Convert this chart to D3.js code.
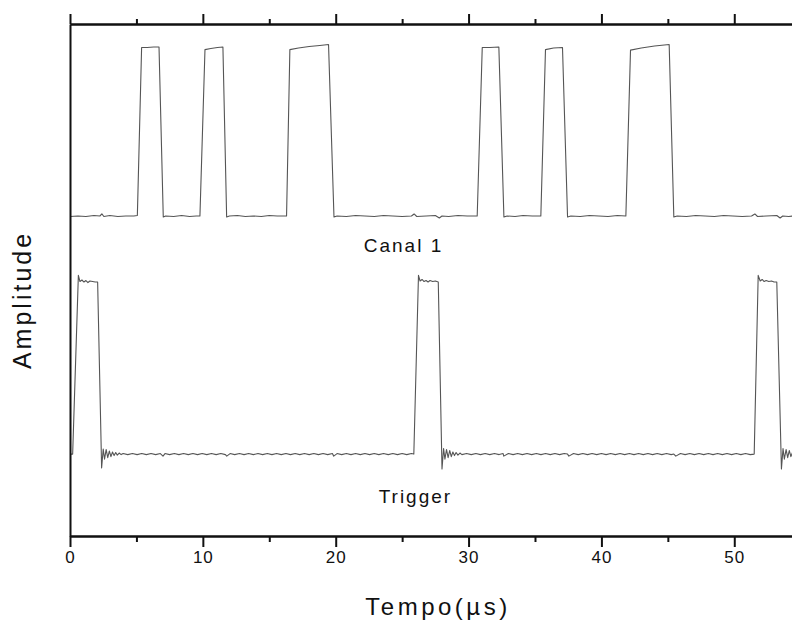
<!DOCTYPE html>
<html>
<head>
<meta charset="utf-8">
<script src="https://cdn.jsdelivr.net/npm/d3@7/dist/d3.min.js"></script>
<style>
  html, body { margin: 0; padding: 0; background: #fff; }
  svg { display: block; font-family: "Liberation Sans", Arial, sans-serif; }
</style>
</head>
<body>
<svg id="chart" width="792" height="624"></svg>
<script>
// Time axis (µs)
const majorTicks = [0, 10, 20, 30, 40, 50];
const minorTicks = [5, 15, 25, 35, 45, 55];

// Canal 1 trace: time (µs) and amplitude (arbitrary units)
const canal1Time = [
  0, 0.6, 1.2, 1.8, 2.25, 2.4, 2.55, 3.0, 3.6, 4.2, 4.8, 5.07, 5.39, 5.8, 6.3, 6.70, 7.02, 7.2,
  7.8, 8.4, 9.0, 9.5, 9.78, 10.16, 10.6, 11.1, 11.51, 11.79, 12.0, 12.6, 13.2, 13.8, 14.4, 15.0,
  15.6, 16.3, 16.55, 17.2, 18.0, 18.8, 19.46, 19.87, 20.1, 20.8, 21.5, 22.2, 22.9, 23.6, 24.3,
  25.0, 25.7, 25.9, 26.1, 26.8, 27.5, 27.8, 28.0, 28.5, 29.2, 29.9, 30.65, 31.03, 31.6, 32.28,
  32.66, 32.9, 33.5, 34.1, 34.8, 35.44, 35.79, 36.4, 37.07, 37.45, 37.7, 38.4, 39.1, 39.8, 40.5,
  41.2, 41.84, 42.19, 43.0, 44.0, 45.1, 45.45, 45.7, 46.4, 47.1, 47.8, 48.5, 49.2, 49.9, 50.6,
  51.3, 51.55, 51.75, 52.4, 53.2, 53.45, 53.65, 54.1, 54.8, 55
];
const canal1Amp = [
  62.4, 62.5, 62.4, 62.6, 62.5, 62.9, 62.4, 62.6, 62.4, 62.5, 62.5, 62.6, 95.4, 95.4, 95.5, 95.5, 62.3, 62.5,
  62.4, 62.6, 62.4, 62.5, 62.5, 95.0, 95.2, 95.4, 95.5, 62.3, 62.5, 62.6, 62.4, 62.5, 62.4, 62.6,
  62.5, 62.5, 95.0, 95.3, 95.6, 95.8, 96.0, 62.3, 62.5, 62.4, 62.6, 62.5, 62.4, 62.6, 62.5,
  62.4, 62.5, 62.9, 62.4, 62.5, 62.6, 62.1, 62.5, 62.4, 62.6, 62.5, 62.5, 95.4, 95.4, 95.5,
  62.3, 62.5, 62.4, 62.6, 62.5, 62.5, 95.0, 95.3, 95.4, 62.3, 62.5, 62.4, 62.6, 62.5, 62.4,
  62.6, 62.5, 94.9, 95.3, 95.7, 96.0, 62.3, 62.5, 62.4, 62.6, 62.5, 62.4, 62.6, 62.5, 62.4,
  62.5, 62.9, 62.4, 62.5, 62.6, 62.1, 62.5, 62.4, 62.6, 62.5
];

// Trigger trace: time (µs) and amplitude (arbitrary units)
const triggerTime = [
  0, 0.2, 0.63, 0.75, 0.9, 1.05, 1.2, 1.35, 1.5, 1.7, 1.9, 2.08, 2.38, 2.5, 2.6, 2.72, 2.84, 2.96,
  3.08, 3.2, 3.32, 3.44, 3.56, 3.7, 3.85,
  4.0, 4.35, 4.7, 5.05, 5.4, 5.75, 6.1, 6.45, 6.8, 7.0, 7.15, 7.5, 7.85, 8.2, 8.55, 8.9, 9.25,
  9.6, 9.95, 10.3, 10.65, 11.0, 11.35, 11.7, 11.8, 12.05, 12.4, 12.75, 13.1, 13.45, 13.8, 14.15,
  14.5, 14.85, 15.2, 15.55, 15.9, 16.25, 16.6, 16.95, 17.3, 17.65, 18.0, 18.35, 18.7, 19.05,
  19.4, 19.75, 19.85, 20.1, 20.45, 20.8, 21.15, 21.5, 21.85, 22.2, 22.55, 22.9, 23.25, 23.6,
  23.95, 24.3, 24.65, 25.0, 25.35, 25.7, 25.88,
  26.23, 26.35, 26.5, 26.65, 26.8, 26.95, 27.1, 27.3, 27.5, 27.72, 28.0, 28.12, 28.22, 28.34,
  28.46, 28.58, 28.7, 28.82, 28.94, 29.06, 29.2, 29.35, 29.5,
  29.85, 30.2, 30.55, 30.9, 31.25, 31.6, 31.95, 32.3, 32.6, 32.65, 33.0, 33.35, 33.7, 34.05,
  34.4, 34.75, 35.1, 35.45, 35.8, 36.15, 36.5, 36.85, 37.2, 37.45, 37.55, 37.9, 38.25, 38.6,
  38.95, 39.3, 39.65, 40.0, 40.35, 40.7, 41.05, 41.4, 41.75, 42.1, 42.45, 42.8, 43.15, 43.5,
  43.85, 44.2, 44.55, 44.9, 45.25, 45.45, 45.6, 45.95, 46.3, 46.65, 47.0, 47.35, 47.7, 48.05,
  48.4, 48.75, 49.1, 49.45, 49.8, 50.15, 50.5, 50.85, 51.2, 51.5,
  51.8, 51.95, 52.1, 52.25, 52.4, 52.6, 52.8, 53.0, 53.2, 53.55, 53.67, 53.77, 53.9, 54.02,
  54.14, 54.26, 54.4, 54.6
];
const triggerAmp = [
  16.0, 16.0, 50.9, 49.7, 50.0, 49.6, 49.9, 49.5, 49.8, 49.7, 49.6, 49.6, 13.3, 17.0, 15.0, 16.9, 15.3, 16.6,
  15.5, 16.4, 15.7, 16.3, 15.8, 16.2, 15.9,
  16.1, 15.9, 16.1, 15.9, 16.1, 15.9, 16.1, 15.9, 16.1, 15.6, 16.1, 15.9, 16.1, 15.9, 16.1, 15.9, 16.1,
  15.9, 16.1, 15.9, 16.1, 15.9, 16.1, 15.9, 15.6, 16.1, 15.9, 16.1, 15.9, 16.1, 15.9, 16.1,
  15.9, 16.1, 15.9, 16.1, 15.9, 16.1, 15.9, 16.1, 15.9, 16.1, 15.9, 16.1, 15.9, 16.1,
  15.9, 16.1, 15.6, 16.1, 15.9, 16.1, 15.9, 16.1, 15.9, 16.1, 15.9, 16.1, 15.9, 16.1,
  15.9, 16.1, 15.9, 16.1, 15.9, 16.1, 16.0,
  50.9, 49.8, 50.1, 49.7, 49.9, 49.6, 49.9, 49.7, 49.8, 49.6, 13.1, 17.1, 15.0, 16.9, 15.3,
  16.7, 15.5, 16.4, 15.7, 16.3, 15.8, 16.2, 15.9,
  16.1, 15.9, 16.1, 15.9, 16.1, 15.9, 16.1, 15.9, 16.1, 15.6, 16.1, 15.9, 16.1, 15.9,
  16.1, 15.9, 16.1, 15.9, 16.1, 15.9, 16.1, 15.9, 16.1, 16.0, 15.6, 16.1, 15.9, 16.1,
  15.9, 16.1, 15.9, 16.1, 15.9, 16.1, 15.9, 16.1, 15.9, 16.1, 15.9, 16.1, 15.9, 16.1,
  15.9, 16.1, 15.9, 16.1, 15.9, 16.0, 15.6, 16.1, 15.9, 16.1, 15.9, 16.1, 15.9, 16.1,
  15.9, 16.1, 15.9, 16.1, 15.9, 16.1, 15.9, 16.1, 15.9, 16.0,
  50.9, 49.8, 50.1, 49.7, 49.9, 49.7, 49.8, 49.6, 49.6, 13.1, 17.1, 15.0, 16.9, 15.3,
  16.7, 15.5, 16.4, 15.8
];

const traces = [
  { name: "Canal 1", time: canal1Time, amp: canal1Amp },
  { name: "Trigger", time: triggerTime, amp: triggerAmp }
];

const svg = d3.select("#chart");
const plotLeft = 70, plotRight = 800.7, plotTop = 24, plotBottom = 536;

const x = d3.scaleLinear().domain([0, 55]).range([plotLeft, plotRight]);
const y = d3.scaleLinear().domain([0, 100]).range([plotBottom, plotTop]);

// Traces
const line = d3.line().x(d => x(d[0])).y(d => y(d[1]));
traces.forEach(tr => {
  const pts = tr.time.map((t, i) => [t, tr.amp[i]]);
  svg.append("path")
    .attr("d", line(pts))
    .attr("fill", "none")
    .attr("stroke", "#555")
    .attr("stroke-width", 1.1)
    .attr("stroke-linejoin", "round");
});

// Frame and ticks
const axisStroke = "#111";
function styleAxis(g) {
  g.select(".domain").attr("stroke", axisStroke).attr("stroke-width", 2);
  g.selectAll(".tick line").attr("stroke", axisStroke).attr("stroke-width", 2);
}

// bottom: major with labels, minor without
const bottomMajor = svg.append("g").attr("transform", `translate(0,${plotBottom})`)
  .call(d3.axisBottom(x).tickValues(majorTicks).tickSize(11).tickSizeOuter(0).tickPadding(4)
    .tickFormat(d3.format("d")));
styleAxis(bottomMajor);
bottomMajor.selectAll("text")
  .attr("fill", "#111")
  .style("font-size", "17px")
  .style("letter-spacing", "1px");

const bottomMinor = svg.append("g").attr("transform", `translate(0,${plotBottom})`)
  .call(d3.axisBottom(x).tickValues(minorTicks).tickSize(6).tickSizeOuter(0).tickFormat(""));
styleAxis(bottomMinor);

// top: ticks only
const topMajor = svg.append("g").attr("transform", `translate(0,${plotTop})`)
  .call(d3.axisTop(x).tickValues(majorTicks).tickSize(10).tickSizeOuter(0).tickFormat(""));
styleAxis(topMajor);
const topMinor = svg.append("g").attr("transform", `translate(0,${plotTop})`)
  .call(d3.axisTop(x).tickValues(minorTicks).tickSize(5).tickSizeOuter(0).tickFormat(""));
styleAxis(topMinor);

// left: plain line, no ticks
const leftAxis = svg.append("g").attr("transform", `translate(${plotLeft},0)`)
  .call(d3.axisLeft(y).tickValues([]).tickSizeOuter(0));
styleAxis(leftAxis);

// Trace labels
svg.append("text")
  .attr("x", x(25.1)).attr("y", y(55.5))
  .attr("text-anchor", "middle")
  .attr("fill", "#111")
  .style("font-size", "19px").style("letter-spacing", "2px")
  .text("Canal 1");
svg.append("text")
  .attr("x", x(26)).attr("y", y(6.5))
  .attr("text-anchor", "middle")
  .attr("fill", "#111")
  .style("font-size", "19px").style("letter-spacing", "2px")
  .text("Trigger");

// Axis titles
svg.append("text")
  .attr("x", 438).attr("y", 615)
  .attr("text-anchor", "middle")
  .attr("fill", "#111")
  .style("font-size", "24px").style("letter-spacing", "3.5px")
  .text("Tempo(µs)");
svg.append("text")
  .attr("transform", "translate(31,300) rotate(-90)")
  .attr("text-anchor", "middle")
  .attr("fill", "#111")
  .style("font-size", "25px").style("letter-spacing", "3px")
  .text("Amplitude");
</script>
</body>
</html>
